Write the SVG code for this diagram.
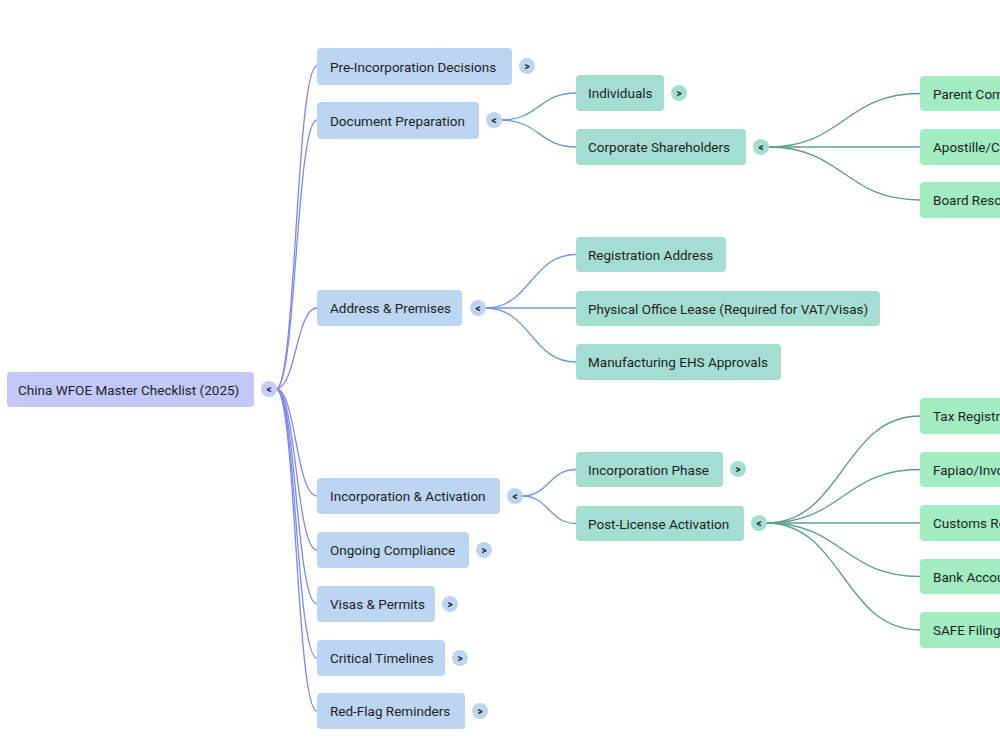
<svg xmlns="http://www.w3.org/2000/svg" width="1000" height="750" viewBox="0 0 1000 750">
  <style>
    .lbl { font-family: Roboto, "Liberation Sans", sans-serif; font-size: 13.5px; fill: #1f1f1f; dominant-baseline: central; }
    .tg { font-family: Roboto, "Liberation Sans", sans-serif; font-size: 10px; font-weight: bold; fill: #1f1f1f; text-anchor: middle; dominant-baseline: central; }
    .root rect { fill: #c4c7fa; }
    .root circle { fill: #c8cbf8; }
    .l1 rect, .l1 circle { fill: #bcd5f1; }
    .l2 rect, .l2 circle { fill: #a4ded2; }
    .l3 rect { fill: #a1ecc1; }
    rect { rx: 4; ry: 4; }
    .c0 path { fill: none; stroke: #7d88f4; stroke-width: 1.3; }
    .c1 path { fill: none; stroke: #6d9ad8; stroke-width: 1.3; }
    .c2 path { fill: none; stroke: #5aa08f; stroke-width: 1.3; }
  </style>
  <rect width="1000" height="750" fill="#ffffff" rx="0" ry="0"/>

  <!-- connectors -->
  <g id="connectors">
    <g class="c0">
      <path d="M276,389 C296,389 296,66 317,66"/>
      <path d="M276,389 C296,389 296,120 317,120"/>
      <path d="M276,389 C296,389 296,308 317,308"/>
      <path d="M276,389 C296,389 296,496 317,496"/>
      <path d="M276,389 C296,389 296,550 317,550"/>
      <path d="M276,389 C296,389 296,604 317,604"/>
      <path d="M276,389 C296,389 296,658 317,658"/>
      <path d="M276,389 C296,389 296,711 317,711"/>
    </g>
    <g class="c1">
      <path d="M501,120 C539,120 539,93 576,93"/>
      <path d="M501,120 C539,120 539,147 576,147"/>
      <path d="M485,308 C531,308 531,254.5 576,254.5"/>
      <path d="M485,308 L576,308"/>
      <path d="M485,308 C531,308 531,362 576,362"/>
      <path d="M522,496 C549,496 549,469.5 576,469.5"/>
      <path d="M522,496 C549,496 549,523.5 576,523.5"/>
    </g>
    <g class="c2">
      <path d="M768,147 C844,147 844,93.5 920,93.5"/>
      <path d="M768,147 L920,147"/>
      <path d="M768,147 C844,147 844,200 920,200"/>
      <path d="M766,523 C843,523 843,416 920,416"/>
      <path d="M766,523 C843,523 843,469.5 920,469.5"/>
      <path d="M766,523 L920,523"/>
      <path d="M766,523 C843,523 843,576.5 920,576.5"/>
      <path d="M766,523 C843,523 843,630 920,630"/>
    </g>
  </g>

  <!-- root -->
  <g id="root" class="root">
    <rect x="7" y="372" width="247" height="35"/>
    <text class="lbl" x="18" y="389.5">China WFOE Master Checklist (2025)</text>
    <circle cx="269" cy="389" r="8"/>
    <text class="tg" x="269" y="389">&lt;</text>
  </g>

  <!-- first level -->
  <g id="pre-incorporation" class="l1">
    <rect x="317" y="48" width="195" height="37"/>
    <text class="lbl" x="330" y="66.5">Pre-Incorporation Decisions</text>
    <circle cx="527" cy="66" r="8"/>
    <text class="tg" x="527" y="66">&gt;</text>
  </g>
  <g id="document-preparation" class="l1">
    <rect x="317" y="102" width="162" height="37"/>
    <text class="lbl" x="330" y="120.5">Document Preparation</text>
    <circle cx="494" cy="120" r="8"/>
    <text class="tg" x="494" y="120">&lt;</text>
  </g>
  <g id="address-premises" class="l1">
    <rect x="317" y="290" width="145" height="36"/>
    <text class="lbl" x="330" y="308">Address &amp; Premises</text>
    <circle cx="478" cy="308" r="8"/>
    <text class="tg" x="478" y="308">&lt;</text>
  </g>
  <g id="incorporation-activation" class="l1">
    <rect x="317" y="478" width="183" height="36"/>
    <text class="lbl" x="330" y="496">Incorporation &amp; Activation</text>
    <circle cx="515" cy="496" r="8"/>
    <text class="tg" x="515" y="496">&lt;</text>
  </g>
  <g id="ongoing-compliance" class="l1">
    <rect x="317" y="532" width="152" height="36"/>
    <text class="lbl" x="330" y="550">Ongoing Compliance</text>
    <circle cx="484" cy="550" r="8"/>
    <text class="tg" x="484" y="550">&gt;</text>
  </g>
  <g id="visas-permits" class="l1">
    <rect x="317" y="586" width="118" height="36"/>
    <text class="lbl" x="330" y="604">Visas &amp; Permits</text>
    <circle cx="450" cy="604" r="8"/>
    <text class="tg" x="450" y="604">&gt;</text>
  </g>
  <g id="critical-timelines" class="l1">
    <rect x="317" y="640" width="128" height="36"/>
    <text class="lbl" x="330" y="658">Critical Timelines</text>
    <circle cx="460" cy="658" r="8"/>
    <text class="tg" x="460" y="658">&gt;</text>
  </g>
  <g id="red-flag-reminders" class="l1">
    <rect x="317" y="693" width="148" height="36"/>
    <text class="lbl" x="330" y="711">Red-Flag Reminders</text>
    <circle cx="480" cy="711" r="8"/>
    <text class="tg" x="480" y="711">&gt;</text>
  </g>

  <!-- second level -->
  <g id="individuals" class="l2">
    <rect x="576" y="75" width="88" height="36"/>
    <text class="lbl" x="588" y="93">Individuals</text>
    <circle cx="679" cy="93" r="8"/>
    <text class="tg" x="679" y="93">&gt;</text>
  </g>
  <g id="corporate-shareholders" class="l2">
    <rect x="576" y="129" width="170" height="36"/>
    <text class="lbl" x="588" y="147">Corporate Shareholders</text>
    <circle cx="761" cy="147" r="8"/>
    <text class="tg" x="761" y="147">&lt;</text>
  </g>
  <g id="registration-address" class="l2">
    <rect x="576" y="237" width="150" height="35"/>
    <text class="lbl" x="588" y="254.5">Registration Address</text>
  </g>
  <g id="physical-office-lease" class="l2">
    <rect x="576" y="291" width="304" height="35"/>
    <text class="lbl" x="588" y="308.5">Physical Office Lease (Required for VAT/Visas)</text>
  </g>
  <g id="manufacturing-ehs" class="l2">
    <rect x="576" y="344" width="205" height="36"/>
    <text class="lbl" x="588" y="362">Manufacturing EHS Approvals</text>
  </g>
  <g id="incorporation-phase" class="l2">
    <rect x="576" y="452" width="147" height="35"/>
    <text class="lbl" x="588" y="469.5">Incorporation Phase</text>
    <circle cx="738" cy="469" r="8"/>
    <text class="tg" x="738" y="469">&gt;</text>
  </g>
  <g id="post-license-activation" class="l2">
    <rect x="576" y="506" width="168" height="35"/>
    <text class="lbl" x="588" y="523.5">Post-License Activation</text>
    <circle cx="759" cy="523" r="8"/>
    <text class="tg" x="759" y="523">&lt;</text>
  </g>

  <!-- third level (runs past the right edge) -->
  <g id="parent-company" class="l3">
    <rect x="920" y="76" width="240" height="35"/>
    <text class="lbl" x="933" y="93.5">Parent Company Documents</text>
  </g>
  <g id="apostille" class="l3">
    <rect x="920" y="129" width="260" height="36"/>
    <text class="lbl" x="933" y="147">Apostille/Consular Legalization</text>
  </g>
  <g id="board-resolution" class="l3">
    <rect x="920" y="182" width="200" height="36"/>
    <text class="lbl" x="933" y="200">Board Resolution</text>
  </g>
  <g id="tax-registration" class="l3">
    <rect x="920" y="398" width="200" height="36"/>
    <text class="lbl" x="933" y="416">Tax Registration</text>
  </g>
  <g id="fapiao" class="l3">
    <rect x="920" y="452" width="220" height="35"/>
    <text class="lbl" x="933" y="469.5">Fapiao/Invoice Setup</text>
  </g>
  <g id="customs" class="l3">
    <rect x="920" y="505" width="220" height="36"/>
    <text class="lbl" x="933" y="523">Customs Registration</text>
  </g>
  <g id="bank-account" class="l3">
    <rect x="920" y="559" width="220" height="35"/>
    <text class="lbl" x="933" y="576.5">Bank Account Opening</text>
  </g>
  <g id="safe-filing" class="l3">
    <rect x="920" y="612" width="200" height="36"/>
    <text class="lbl" x="933" y="630">SAFE Filing</text>
  </g>
</svg>
